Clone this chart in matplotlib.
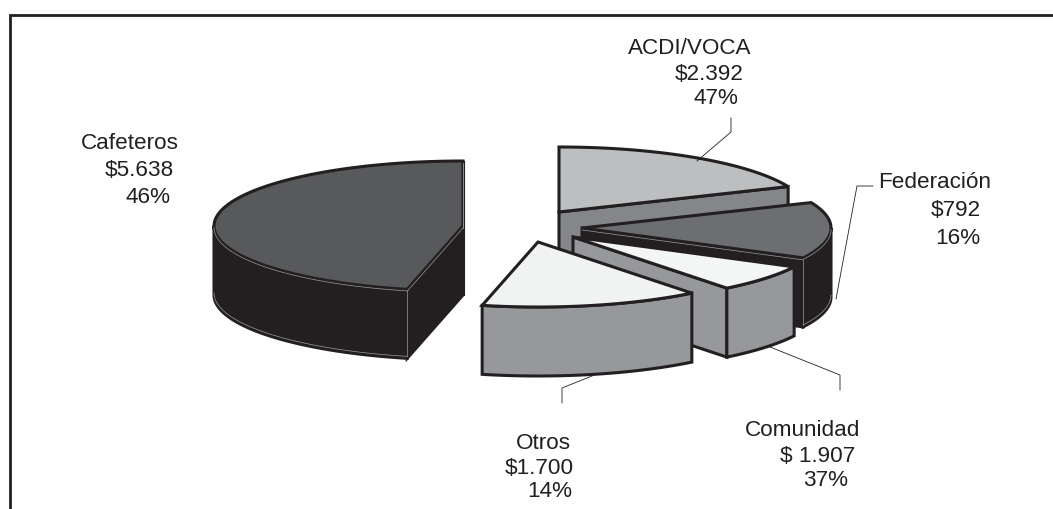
import numpy as np
import matplotlib
matplotlib.use("Agg")
import matplotlib.pyplot as plt

# slices in the order they go round the pie, starting at 12 o'clock
slice_names = ["Cafeteros", "Otros", "Comunidad", "Federación", "ACDI/VOCA"]
slice_share = [46.4, 14.2, 6.8, 14.0, 18.6]

amounts = ["$5.638", "$1.700", "$ 1.907", "$792", "$2.392"]
percents = ["46%", "14%", "37%", "16%", "47%"]

top_colors = ["#58595b", "#f1f2f2", "#f4f5f5", "#6d6e71", "#bcbec0"]
side_colors = ["#231f20", "#97989b", "#97989b", "#231f20", "#858689"]
centers = [(463, 227), (538, 243), (573, 238), (582, 229), (559, 213)]
draw_order = [0, 4, 3, 2, 1]

RX, RY, DEPTH = 249, 65, 69
EDGE = "#231f20"
LIGHT = "#9a9b9d"

fig = plt.figure(figsize=(10.53, 5.10), dpi=100)
ax = fig.add_axes([0, 0, 1, 1])
ax.set_xlim(0, 1053)
ax.set_ylim(510, 0)
ax.axis("off")


def rim(c, a, b, n=80):
    t = np.radians(np.linspace(a, b, n))
    return c[0] + RX * np.cos(t), c[1] - RY * np.sin(t)


def face(xs, ys, color, lw=2.2):
    ax.fill(xs, ys, facecolor=color, edgecolor=EDGE, linewidth=lw, joinstyle="miter")


def draw_slice(c, a, b, top, side):
    dark = side == "#231f20"
    # cut walls that look towards the viewer
    for ang, show in ((a, np.cos(np.radians(a)) > 0), (b, np.cos(np.radians(b)) < 0)):
        if show:
            x, y = rim(c, ang, ang, 1)
            face([c[0], x[0], x[0], c[0]], [c[1], y[0], y[0] + DEPTH, c[1] + DEPTH], side)
            if dark:
                ax.plot([x[0], x[0]], [y[0] + 2, y[0] + DEPTH - 2], color=LIGHT, lw=0.5)
                ax.plot([c[0], x[0]], [c[1] + 2, y[0] + 2], color=LIGHT, lw=0.5)
    # outer wall, only the front half of the rim
    lo, hi = max(a, 180), min(b, 360)
    if lo < hi:
        x, y = rim(c, lo, hi)
        face(np.r_[x, x[::-1]], np.r_[y, y[::-1] + DEPTH], side)
        if dark:
            ax.plot(x, y + DEPTH - 2, color=LIGHT, lw=0.5)
    x, y = rim(c, a, b)
    face(np.r_[c[0], x], np.r_[c[1], y], top)
    if dark and lo < hi:
        xi, yi = rim(c, lo, hi)
        ax.plot(xi, yi + 1.5, color=LIGHT, lw=0.5)


edges = 90 + 3.6 * np.r_[0, np.cumsum(slice_share)]
for i in draw_order:
    draw_slice(centers[i], edges[i], edges[i + 1], top_colors[i], side_colors[i])

# leader lines
leaders = [
    ([731, 731, 697], [119, 133, 162]),
    ([873, 857, 836], [187, 187, 300]),
    ([840, 840, 770], [391, 376, 348]),
    ([562, 562, 597], [404, 389, 375]),
]
for xs, ys in leaders:
    ax.plot(xs, ys, color=EDGE, lw=0.6)

# frame, only left and top
ax.plot([9.5, 9.5, 1053], [510, 16.3, 16.3], color=EDGE, lw=2, solid_joinstyle="miter")

# text, each line placed on its own as the lines are not aligned
labels = [
    (slice_names[0], 81, 149), (amounts[0], 105, 176), (percents[0], 126, 203),
    (slice_names[4], 628, 54), (amounts[4], 675, 80), (percents[4], 694, 104),
    (slice_names[3], 878, 188), (amounts[3], 931, 216), (percents[3], 935, 244),
    (slice_names[2], 745, 436), (amounts[2], 780, 462), (percents[2], 803, 486),
    (slice_names[1], 516, 449), (amounts[1], 505, 474), (percents[1], 527, 497),
]
for s, x, y in labels:
    ax.text(x, y, s, family="Liberation Sans", fontsize=16.2, color=EDGE, ha="left", va="baseline")

fig.savefig("out.png", dpi=100, facecolor="white")
